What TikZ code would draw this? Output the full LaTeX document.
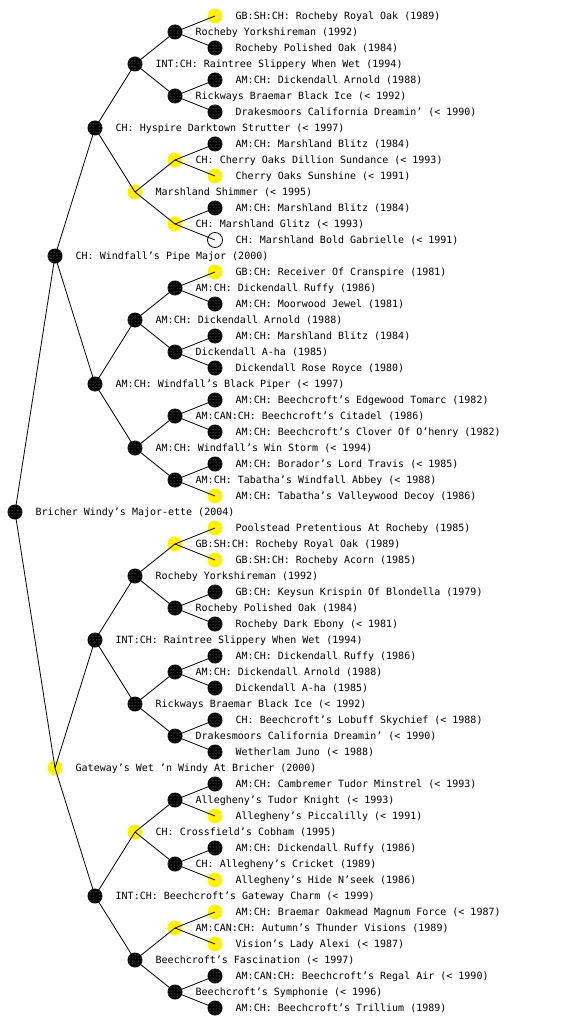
\documentclass[tikz,border=0pt]{standalone}
\usepackage{fontspec}
\setmonofont{DejaVu Sans Mono}
\usetikzlibrary{patterns}
\tikzset{
  dog/.style={circle, minimum size=15pt, inner sep=0pt},
  blk/.style={dog, fill=black, postaction={pattern=dots, pattern color=white!70!black}},
  ylw/.style={dog, fill=yellow},
  wht/.style={dog, draw=black, line width=0.8pt, fill=white},
  edge/.style={line width=0.8pt, black},
  lbl/.style={anchor=west, inner sep=0pt, text height=7.3pt, text depth=0pt, font=\ttfamily\fontsize{10}{12}\selectfont}
}
\newcommand{\pdog}[4]{%
  \node[#3] (n#1) at (#2,16*#1) {};
  \node[lbl] (t#1) at (#2+20.5,16*#1) {#4};
}
\begin{document}
\begin{tikzpicture}[x=1pt,y=-1pt]
\useasboundingbox (0,0) rectangle (560,1024);
\pdog{1}{215}{ylw}{GB:SH:CH: Rocheby Royal Oak (1989)}
\pdog{2}{175}{blk}{Rocheby Yorkshireman (1992)}
\pdog{3}{215}{blk}{Rocheby Polished Oak (1984)}
\pdog{4}{135}{blk}{INT:CH: Raintree Slippery When Wet (1994)}
\pdog{5}{215}{blk}{AM:CH: Dickendall Arnold (1988)}
\pdog{6}{175}{blk}{Rickways Braemar Black Ice (< 1992)}
\pdog{7}{215}{blk}{Drakesmoors California Dreamin’ (< 1990)}
\pdog{8}{95}{blk}{CH: Hyspire Darktown Strutter (< 1997)}
\pdog{9}{215}{blk}{AM:CH: Marshland Blitz (1984)}
\pdog{10}{175}{ylw}{CH: Cherry Oaks Dillion Sundance (< 1993)}
\pdog{11}{215}{ylw}{Cherry Oaks Sunshine (< 1991)}
\pdog{12}{135}{ylw}{Marshland Shimmer (< 1995)}
\pdog{13}{215}{blk}{AM:CH: Marshland Blitz (1984)}
\pdog{14}{175}{ylw}{CH: Marshland Glitz (< 1993)}
\pdog{15}{215}{wht}{CH: Marshland Bold Gabrielle (< 1991)}
\pdog{16}{55}{blk}{CH: Windfall’s Pipe Major (2000)}
\pdog{17}{215}{ylw}{GB:CH: Receiver Of Cranspire (1981)}
\pdog{18}{175}{blk}{AM:CH: Dickendall Ruffy (1986)}
\pdog{19}{215}{blk}{AM:CH: Moorwood Jewel (1981)}
\pdog{20}{135}{blk}{AM:CH: Dickendall Arnold (1988)}
\pdog{21}{215}{blk}{AM:CH: Marshland Blitz (1984)}
\pdog{22}{175}{blk}{Dickendall A-ha (1985)}
\pdog{23}{215}{blk}{Dickendall Rose Royce (1980)}
\pdog{24}{95}{blk}{AM:CH: Windfall’s Black Piper (< 1997)}
\pdog{25}{215}{blk}{AM:CH: Beechcroft’s Edgewood Tomarc (1982)}
\pdog{26}{175}{blk}{AM:CAN:CH: Beechcroft’s Citadel (1986)}
\pdog{27}{215}{blk}{AM:CH: Beechcroft’s Clover Of O’henry (1982)}
\pdog{28}{135}{blk}{AM:CH: Windfall’s Win Storm (< 1994)}
\pdog{29}{215}{blk}{AM:CH: Borador’s Lord Travis (< 1985)}
\pdog{30}{175}{blk}{AM:CH: Tabatha’s Windfall Abbey (< 1988)}
\pdog{31}{215}{ylw}{AM:CH: Tabatha’s Valleywood Decoy (1986)}
\pdog{32}{15}{blk}{Bricher Windy’s Major-ette (2004)}
\pdog{33}{215}{ylw}{Poolstead Pretentious At Rocheby (1985)}
\pdog{34}{175}{ylw}{GB:SH:CH: Rocheby Royal Oak (1989)}
\pdog{35}{215}{ylw}{GB:SH:CH: Rocheby Acorn (1985)}
\pdog{36}{135}{blk}{Rocheby Yorkshireman (1992)}
\pdog{37}{215}{blk}{GB:CH: Keysun Krispin Of Blondella (1979)}
\pdog{38}{175}{blk}{Rocheby Polished Oak (1984)}
\pdog{39}{215}{blk}{Rocheby Dark Ebony (< 1981)}
\pdog{40}{95}{blk}{INT:CH: Raintree Slippery When Wet (1994)}
\pdog{41}{215}{blk}{AM:CH: Dickendall Ruffy (1986)}
\pdog{42}{175}{blk}{AM:CH: Dickendall Arnold (1988)}
\pdog{43}{215}{blk}{Dickendall A-ha (1985)}
\pdog{44}{135}{blk}{Rickways Braemar Black Ice (< 1992)}
\pdog{45}{215}{blk}{CH: Beechcroft’s Lobuff Skychief (< 1988)}
\pdog{46}{175}{blk}{Drakesmoors California Dreamin’ (< 1990)}
\pdog{47}{215}{blk}{Wetherlam Juno (< 1988)}
\pdog{48}{55}{ylw}{Gateway’s Wet ’n Windy At Bricher (2000)}
\pdog{49}{215}{blk}{AM:CH: Cambremer Tudor Minstrel (< 1993)}
\pdog{50}{175}{blk}{Allegheny’s Tudor Knight (< 1993)}
\pdog{51}{215}{ylw}{Allegheny’s Piccalilly (< 1991)}
\pdog{52}{135}{ylw}{CH: Crossfield’s Cobham (1995)}
\pdog{53}{215}{blk}{AM:CH: Dickendall Ruffy (1986)}
\pdog{54}{175}{blk}{CH: Allegheny’s Cricket (1989)}
\pdog{55}{215}{ylw}{Allegheny’s Hide N’seek (1986)}
\pdog{56}{95}{blk}{INT:CH: Beechcroft’s Gateway Charm (< 1999)}
\pdog{57}{215}{ylw}{AM:CH: Braemar Oakmead Magnum Force (< 1987)}
\pdog{58}{175}{ylw}{AM:CAN:CH: Autumn’s Thunder Visions (1989)}
\pdog{59}{215}{ylw}{Vision’s Lady Alexi (< 1987)}
\pdog{60}{135}{blk}{Beechcroft’s Fascination (< 1997)}
\pdog{61}{215}{blk}{AM:CAN:CH: Beechcroft’s Regal Air (< 1990)}
\pdog{62}{175}{blk}{Beechcroft’s Symphonie (< 1996)}
\pdog{63}{215}{blk}{AM:CH: Beechcroft’s Trillium (1989)}
\foreach \s/\n in {1/15, 2/7, 4/3, 8/1, 16/0} {
  \foreach \k in {0,...,\n} {
    \pgfmathtruncatemacro\p{2*\s*(2*\k+1)}
    \pgfmathtruncatemacro\a{\p-\s}
    \pgfmathtruncatemacro\b{\p+\s}
    \draw[edge] (n\p.center) -- (n\a.center);
    \draw[edge] (n\p.center) -- (n\b.center);
  }
}
\end{tikzpicture}
\end{document}
